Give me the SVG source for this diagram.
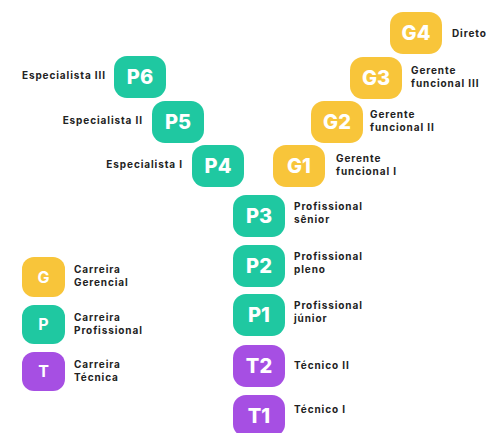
<svg xmlns="http://www.w3.org/2000/svg" width="486" height="433" viewBox="0 0 486 433">
<style>
.g{fill:#f8c53a}.p{fill:#1fc8a1}.t{fill:#a64fe3}
.bx{font-family:Inter,"Open Sans",sans-serif;font-weight:800;font-size:20px;fill:#fff;text-anchor:middle}
.lg{font-family:Inter,"Open Sans",sans-serif;font-weight:700;font-size:16px;fill:#fff;text-anchor:middle}
.lb{font-family:Inter,"Open Sans",sans-serif;font-weight:700;font-size:10px;fill:#222;letter-spacing:0.9px}
.r{text-anchor:end}
</style>
<rect width="486" height="433" fill="#fff"/>
<g id="P6"><rect class="p" x="114" y="56" width="52" height="42" rx="13"/><text class="bx" x="140" y="84">P6</text><text class="lb r" x="106" y="79">Especialista III</text></g>
<g id="P5"><rect class="p" x="152" y="101" width="52" height="42" rx="13"/><text class="bx" x="178" y="129">P5</text><text class="lb r" x="143" y="124">Especialista II</text></g>
<g id="P4"><rect class="p" x="192" y="145" width="52" height="42" rx="13"/><text class="bx" x="218" y="173">P4</text><text class="lb r" x="183" y="168">Especialista I</text></g>
<g id="G4"><rect class="g" x="390" y="12" width="52" height="42" rx="13"/><text class="bx" x="416" y="40">G4</text><text class="lb" x="452" y="37">Diretor</text></g>
<g id="G3"><rect class="g" x="350" y="57" width="52" height="42" rx="13"/><text class="bx" x="376" y="85">G3</text><text class="lb" x="411" y="74">Gerente</text><text class="lb" x="411" y="87">funcional III</text></g>
<g id="G2"><rect class="g" x="311" y="101" width="52" height="42" rx="13"/><text class="bx" x="337" y="129">G2</text><text class="lb" x="370" y="118">Gerente</text><text class="lb" x="370" y="131">funcional II</text></g>
<g id="G1"><rect class="g" x="273" y="145" width="52" height="42" rx="13"/><text class="bx" x="299" y="173">G1</text><text class="lb" x="336" y="162">Gerente</text><text class="lb" x="336" y="175">funcional I</text></g>
<g id="P3"><rect class="p" x="233" y="195" width="52" height="42" rx="13"/><text class="bx" x="259" y="223">P3</text><text class="lb" x="294" y="210">Profissional</text><text class="lb" x="294" y="223">sênior</text></g>
<g id="P2"><rect class="p" x="233" y="245" width="52" height="42" rx="13"/><text class="bx" x="259" y="273">P2</text><text class="lb" x="294" y="260">Profissional</text><text class="lb" x="294" y="273">pleno</text></g>
<g id="P1"><rect class="p" x="233" y="294" width="52" height="42" rx="13"/><text class="bx" x="259" y="322">P1</text><text class="lb" x="294" y="309">Profissional</text><text class="lb" x="294" y="322">júnior</text></g>
<g id="T2"><rect class="t" x="233" y="345" width="52" height="42" rx="13"/><text class="bx" x="259" y="373">T2</text><text class="lb" x="294" y="369">Técnico II</text></g>
<g id="T1"><rect class="t" x="233" y="395" width="52" height="42" rx="13"/><text class="bx" x="259" y="423">T1</text><text class="lb" x="294" y="413">Técnico I</text></g>
<g id="legend-G"><rect class="g" x="22" y="257" width="43" height="40" rx="12"/><text class="lg" x="43.5" y="283">G</text><text class="lb" x="74" y="273">Carreira</text><text class="lb" x="74" y="286">Gerencial</text></g>
<g id="legend-P"><rect class="p" x="22" y="305" width="43" height="39" rx="12"/><text class="lg" x="43.5" y="330">P</text><text class="lb" x="74" y="321">Carreira</text><text class="lb" x="74" y="334">Profissional</text></g>
<g id="legend-T"><rect class="t" x="22" y="352" width="43" height="39" rx="12"/><text class="lg" x="43.5" y="377">T</text><text class="lb" x="74" y="368">Carreira</text><text class="lb" x="74" y="381">Técnica</text></g>
<g id="connectors"></g>
</svg>
